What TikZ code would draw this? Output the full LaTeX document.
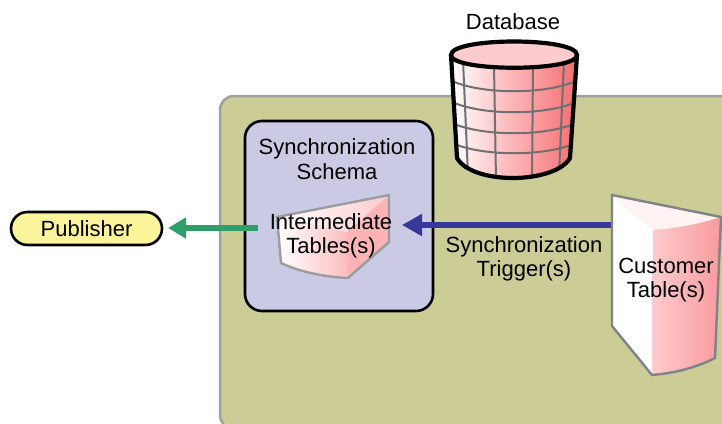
\documentclass[tikz,border=0pt]{standalone}
\usepackage{fontspec}
\setmainfont{Liberation Sans}
\usetikzlibrary{arrows.meta,shapes.misc}
\definecolor{panelfill}{HTML}{CBCC96}
\definecolor{panelline}{HTML}{A0A0A0}
\definecolor{schemafill}{HTML}{CBCAE5}
\definecolor{pubfill}{HTML}{FBF49A}
\definecolor{greenarrow}{HTML}{2F9E6B}
\definecolor{bluearrow}{HTML}{38379A}
\definecolor{tableline}{HTML}{808487}
\definecolor{gridline}{HTML}{6E7073}
\definecolor{pinktop}{HTML}{FCCBCD}
\definecolor{pinkdark}{HTML}{F56E70}
\definecolor{pinkmid}{HTML}{FA9A9D}
\tikzset{
  x=1pt,y=-1pt,
  label text/.style={font=\fontsize{22}{24.5}\selectfont,align=center,inner sep=0pt,text=black},
  green flow/.style={line width=5.5pt,-{Triangle[length=18pt,width=20pt]}},
  blue flow/.style={line width=5.5pt,-{Triangle[length=20pt,width=21pt]}},
  grid rule/.style={gridline,line width=2pt},
  table edge/.style={tableline,line width=2.4pt,line join=miter},
}
\begin{document}
\begin{tikzpicture}
\useasboundingbox (0,0) rectangle (722,423);
\begin{scope}
\clip (0,0) rectangle (722,423);
\draw[panelline,line width=2.5pt,fill=panelfill,rounded corners=14pt] (220,96) rectangle (760,429);
\end{scope}
\node[draw=black,line width=2.6pt,fill=schemafill,rounded corners=17pt,minimum width=188pt,minimum height=190pt,inner sep=0pt] (schema) at (339,216) {};
\node[label text] (schematitle) at (337,159) {Synchronization\\Schema};

% database
\path[left color=white,right color=pinkdark,middle color=pinkmid!75!white] (451,55) .. controls (451,72) and (577,72) .. (577,55) -- (570,158) .. controls (562,172) and (535,178) .. (513,178) .. controls (490,178) and (465,172) .. (457,158) -- cycle;
\begin{scope}
\clip (451,55) .. controls (451,72) and (577,72) .. (577,55) -- (570,158) .. controls (562,172) and (535,178) .. (513,178) .. controls (490,178) and (465,172) .. (457,158) -- cycle;
\foreach \ya in {80,101,122,142} {
  \draw[grid rule] (450,\ya) .. controls (480,{\ya+15}) and (548,{\ya+15}) .. (578,\ya);
}
\draw[grid rule] (463,60) -- (468,175);
\draw[grid rule] (494,65) -- (496,180);
\draw[grid rule] (533,65) -- (532,180);
\draw[grid rule] (564,60) -- (559,175);
\end{scope}
\draw[black,line width=4.2pt,fill=pinktop] (451,55) .. controls (451,37) and (577,37) .. (577,55) .. controls (577,72) and (451,72) .. (451,55) -- cycle;
\draw[black,line width=4.2pt,line join=round] (451,55) -- (457,158) .. controls (465,172) and (490,178) .. (513,178) .. controls (535,178) and (562,172) .. (570,158) -- (577,55);
\node[label text] (dbtitle) at (513,22) {Database};

% intermediate table
\path[left color=white,right color=pinkmid!65!white] (277,217) -- (347,232) -- (348,278) .. controls (325,277) and (300,272) .. (281,263) -- cycle;
\path[fill=pinkmid!75!white] (347,232) -- (389,195) -- (389,242) -- (348,278) -- cycle;
\path[left color=white,right color=pinktop] (277,217) -- (389,195) -- (347,232) -- cycle;
\draw[table edge,tableline!80!white] (277,217) -- (389,195) -- (389,242) -- (348,278) .. controls (325,277) and (300,272) .. (281,263) -- cycle;
\node[label text] (inter) at (331,236) {Intermediate\\Tables(s)};

% customer table
\path[fill=white] (612,195) -- (653,230) -- (652,375) -- (612,326) -- cycle;
\path[fill=pinktop!25!white] (612,195) -- (721,217) .. controls (700,224) and (675,229) .. (653,230) -- cycle;
\path[left color=pinktop,right color=pinkmid] (653,230) .. controls (675,229) and (700,224) .. (721,217) -- (715,358) .. controls (695,368) and (675,373) .. (652,375) -- cycle;
\draw[table edge] (612,195) -- (721,217) -- (715,358) .. controls (695,368) and (675,373) .. (652,375) -- (612,326) -- cycle;
\node[label text] (customer) at (666,280) {Customer\\Table(s)};

% publisher
\node[draw=black,line width=2.6pt,fill=pubfill,rounded rectangle,minimum width=151pt,minimum height=33pt,inner sep=0pt,font=\fontsize{22}{24.5}\selectfont] (publisher) at (86.5,228.5) {Publisher};

% trigger label
\node[label text] (trigger) at (524,259) {Synchronization\\Trigger(s)};

% connectors
\coordinate (interleft) at (258,228);
\coordinate (publisherarrow) at (168,228);
\coordinate (customerleft) at (611,225);
\coordinate (interright) at (402,225);
\draw[green flow,greenarrow] (interleft) -- (publisherarrow);
\draw[blue flow,bluearrow] (customerleft) -- (interright);
\end{tikzpicture}
\end{document}
